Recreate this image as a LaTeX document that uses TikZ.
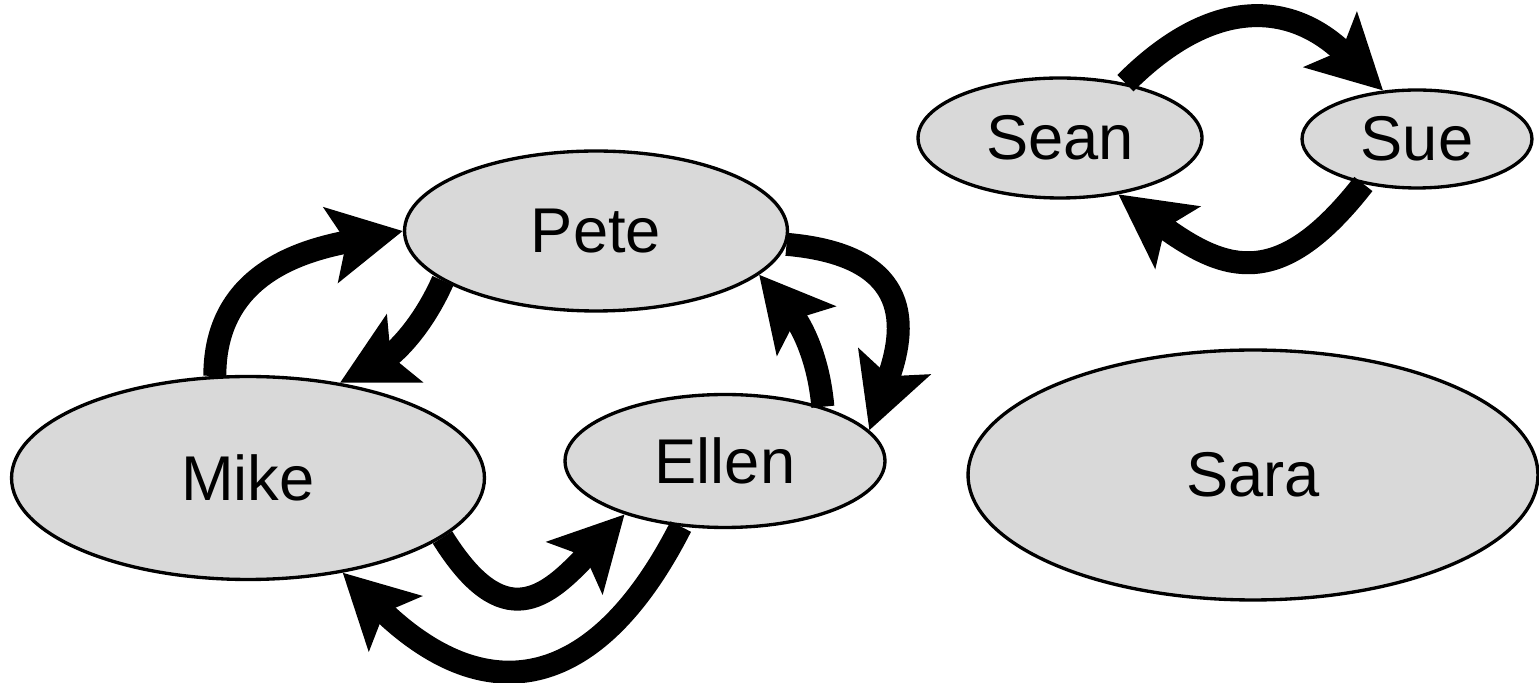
\documentclass[tikz,border=0pt]{standalone}
\usepackage{fontspec}
\setmainfont{Liberation Sans}
\usetikzlibrary{shapes.geometric, arrows.meta}

\begin{document}
\begin{tikzpicture}[x=0.02cm, y=0.02cm, line join=round,
	person/.style={ellipse, draw, fill=black!15, line width=1.9pt, inner sep=0pt, font=\fontsize{36}{40}\selectfont},
	link/.style={line width=0.46cm, -{Stealth[length=1.45cm, width=1.5cm, inset=0.3cm]}}]
	
	\useasboundingbox (0,0) rectangle (1539,683);
	
	\node[person, minimum width=7.66cm, minimum height=3.2cm] (pete) at (596,452) {Pete};
	\node[person, minimum width=9.46cm, minimum height=4.06cm] (mike) at (248,205) {Mike};
	\node[person, minimum width=6.4cm, minimum height=2.66cm] (ellen) at (725,222) {Ellen};
	\node[person, minimum width=5.68cm, minimum height=2.4cm] (sean) at (1060,545) {Sean};
	\node[person, minimum width=4.6cm, minimum height=1.96cm] (sue) at (1417,544) {Sue};
	\node[person, minimum width=11.4cm, minimum height=5cm] (sara) at (1253,208) {Sara};
	
	\draw[link] (mike.108) to[out=90, in=191, looseness=1.1] (pete.west);
	\draw[link] (pete.198) to[out=246, in=28] (mike.46);
	\draw[link] (pete.-4) to[out=-5, in=70, looseness=1.5] (ellen.12);
	\draw[link] (ellen.29) to[out=95, in=-50] (pete.-15);
	\draw[link] (mike.-17) to[out=-58, in=227, looseness=1.6] (ellen.208);
	\draw[link] (ellen.236) to[out=243, in=-44, looseness=1.45] (mike.-45);
	
	\draw[link] (sean.40) to[out=45, in=136, looseness=1.25] (sue.125);
	\draw[link] (sue.220) to[out=232, in=-36, looseness=1.4] (sean.-44);
	
\end{tikzpicture}
\end{document}
